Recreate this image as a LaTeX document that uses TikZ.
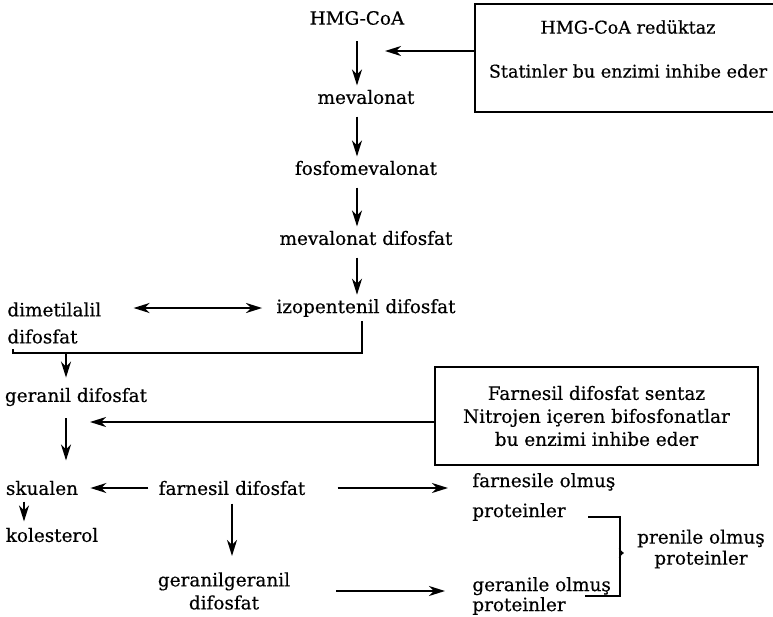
\documentclass[tikz,border=0pt]{standalone}
\usepackage{fontspec}
\setmainfont{DejaVu Serif}[FakeBold=0.4]
\usetikzlibrary{arrows.meta}

\tikzset{
	flow/.style={-{Stealth[length=8pt,width=5pt,inset=2.5pt]}, line width=1pt},
	twoway/.style={{Stealth[length=8pt,width=5pt,inset=2.5pt]}-{Stealth[length=8pt,width=5pt,inset=2.5pt]}, line width=1pt},
	joint/.style={line width=1pt},
	enzbox/.style={draw, line width=1pt, align=center},
}

\begin{document}
\begin{tikzpicture}[x=0.5pt, y=-0.5pt, every node/.style={font=\fontsize{9.2}{13}\selectfont, inner sep=2pt}]
		\useasboundingbox (0,0) rectangle (773,617);
		
		\node (hmg) at (357,18) {HMG-CoA};
		\node (mev) at (366,97) {mevalonat};
		\node (fos) at (366,168) {fosfomevalonat};
		\node (mevd) at (366,238) {mevalonat difosfat};
		\node (ipp) at (366,308) {izopentenil difosfat};
		\node (dma) [anchor=west, align=left] at (3,323) {dimetilalil\\[0.5pt]difosfat};
		\node (gpp) at (76,397) {geranil difosfat};
		\node (sq) at (42,488) {skualen};
		\node (kol) at (52,535) {kolesterol};
		\node (fpp) at (232,488) {farnesil difosfat};
		\node (ggpp) [align=center] at (224,591) {geranilgeranil\\[-1.5pt]difosfat};
		\node (fprot) [anchor=west, align=left] at (468,497) {farnesile olmuş\\[2pt]proteinler};
		\node (gprot) [anchor=west, align=left] at (468,596) {geranile olmuş\\[-3pt]proteinler};
		\node (prot) [align=center] at (701,549) {prenile olmuş\\[-2.5pt]proteinler};
		
		\node (box1) [align=center, minimum width=153pt, font=\fontsize{8.8}{12}\selectfont] at (628,49) {HMG-CoA redüktaz\\[10pt]Statinler bu enzimi inhibe eder};
		\node (box2) [enzbox, minimum width=161.5pt, minimum height=49pt] at (596.5,416) {Farnesil difosfat sentaz\\[-1.5pt]Nitrojen içeren bifosfonatlar\\[-1.5pt]bu enzimi inhibe eder};
		\draw[joint] (800,4) -| (box1.west |- 0,112) -- (800,112);
		
		\coordinate (hmgin) at (385,51);
		\coordinate (gppin) at (90,422);
		\coordinate (merge) at (66,353);
		\coordinate (ftop) at (588,517);
		\coordinate (gbot) at (585,596);
		\coordinate (br) at (620,553);
		
		\draw[flow] (box1.west |- hmgin) -- (hmgin);
		\draw[flow] (box2.west |- gppin) -- (gppin);
		
		\draw[flow, shorten <=6pt] (hmg.south) -- (hmg.south |- mev.north);
		\draw[flow, shorten <=4pt] (mev.south -| hmg.south) -- (hmg.south |- fos.north);
		\draw[flow, shorten <=4pt] (fos.south -| hmg.south) -- (hmg.south |- mevd.north);
		\draw[flow, shorten <=4pt] (mevd.south -| hmg.south) -- (hmg.south |- ipp.north);
		\draw[twoway, shorten <=14pt, shorten >=5pt] (dma.east |- ipp) -- (ipp.west);
		
		\draw[joint] ([xshift=-2pt]ipp.south) |- (merge) -- ++(-53,0) -- ++(0,-4);
		\draw[flow, shorten >=3pt] (merge) -- (gpp.north -| merge);
		\draw[flow, shorten <=4pt, shorten >=8pt] (gpp.south -| merge) -- (sq.north -| merge);
		\draw[flow, shorten <=3pt, shorten >=4pt] (fpp.west) -- (sq.east);
		\draw[flow, shorten <=1pt, shorten >=1pt] ([xshift=-9pt]sq.south) -- ([xshift=-14pt]kol.north);
		\draw[flow, shorten <=2pt, shorten >=6pt] (fpp.south) -- (fpp.south |- ggpp.north);
		\draw[flow, shorten <=14pt, shorten >=10pt] (fpp.east) -- (fpp.east -| fprot.west);
		\draw[flow, shorten <=21pt, shorten >=11.5pt] (ggpp.east) -- (ggpp.east -| gprot.west);
		
		\draw[joint] (ftop) -| (br) |- (gbot);
		\draw[-{Stealth[length=2.5pt,width=4.5pt]}, line width=1pt, shorten >=4.5pt] (br) -- (br -| prot.west);
	\end{tikzpicture}
\end{document}
